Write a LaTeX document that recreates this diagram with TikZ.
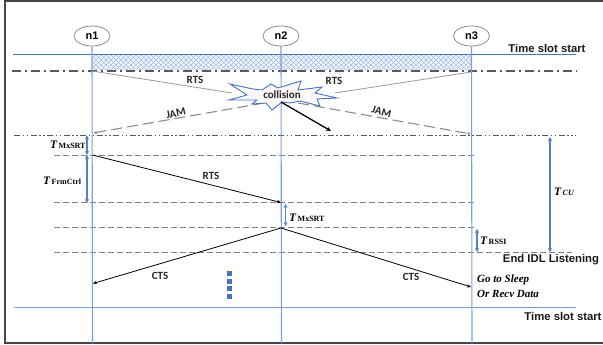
\documentclass[tikz,border=0pt]{standalone}
\usepackage{fontspec}
\setmainfont{Carlito}
\newfontfamily\arialf{Liberation Sans}
\newfontfamily\timesf{Liberation Serif}
\usetikzlibrary{arrows.meta,patterns,shapes.geometric}
\definecolor{lifeblue}{HTML}{7C9FDC}
\definecolor{slotblue}{HTML}{4472C4}
\definecolor{dashgray}{HTML}{808080}
\definecolor{darkgray}{HTML}{595959}
\tikzset{
  lifeline/.style={draw=lifeblue,line width=1.1pt},
  nodeell/.style={draw=gray,line width=.7pt,fill=white,ellipse,minimum width=36pt,minimum height=20pt,inner sep=0pt,font=\arialf\bfseries\fontsize{11}{12}\selectfont},
  slotline/.style={draw=slotblue,line width=.9pt},
  thickdd/.style={draw=darkgray,line width=1.6pt,dash pattern=on 9pt off 4pt on 2pt off 4pt},
  thindd/.style={draw=darkgray,line width=.8pt,dash pattern=on 6pt off 2.5pt on 1.5pt off 2.5pt on 1.5pt off 2.5pt},
  dashedline/.style={draw=dashgray,line width=.8pt,dash pattern=on 6pt off 3pt},
  graysig/.style={draw=gray!80,line width=.8pt},
  jamsig/.style={draw=gray!90,line width=1.1pt,dash pattern=on 11pt off 5pt,-{Stealth[length=4pt,width=3pt]}},
  msg/.style={draw=black,line width=.8pt,-{Stealth[length=4pt,width=3.5pt]}},
  dim/.style={draw=slotblue!90,line width=1.1pt,{Stealth[length=4pt,width=4pt]}-{Stealth[length=4pt,width=4pt]}},
  lbl/.style={font=\fontsize{11}{12}\selectfont\bfseries,inner sep=0pt,text=black!85},
  head/.style={font=\arialf\bfseries\fontsize{11.3}{13}\selectfont,inner sep=0pt,text=black!90},
  tlab/.style={inner sep=0pt,font=\timesf\fontsize{9}{11}\selectfont,text=black},
  dot/.style={fill=slotblue,draw=none,minimum width=5.5pt,minimum height=5pt,inner sep=0pt,rectangle},
}
\newcommand{\Tlab}[1]{{\fontsize{11.5}{12}\selectfont\bfseries\itshape T}\,{\fontsize{8}{10}\selectfont\bfseries #1}}
\begin{document}
\begin{tikzpicture}[x=1pt,y=-1pt]
\useasboundingbox (0,0) rectangle (603,345);
\draw[draw=darkgray!80!black,line width=1.3pt] (603,1) -- (5,1) -- (5,343) -- (603,343);

% hatched band
\begin{scope}
\clip (92,55) rectangle (471.5,70);
\fill[lifeblue!10] (92,55) rectangle (471.5,70);
\foreach \x in {75,80,...,490} {
  \draw[lifeblue!70,line width=.7pt] (\x,54) -- (\x+17,71);
  \draw[lifeblue!70,line width=.7pt] (\x+17,54) -- (\x,71);
}
\end{scope}

% named coordinates
\coordinate (s1L) at (13,54.5);  \coordinate (s1R) at (576,54.5);
\coordinate (aL) at (12,71);     \coordinate (aR) at (577,71);
\coordinate (bL) at (14,135);    \coordinate (bR) at (576,135);
\coordinate (cL) at (54,155);    \coordinate (cR) at (476,155);
\coordinate (dL) at (54,202.5);  \coordinate (dR) at (476,202.5);
\coordinate (eL) at (54,227.5);  \coordinate (eR) at (476,227.5);
\coordinate (fL) at (54,252.5);  \coordinate (fR) at (572,252.5);
\coordinate (gL) at (14,307.5);  \coordinate (gR) at (576,307.5);

\draw[slotline] (s1L) -- (s1R);
\draw[slotline,line width=1.2pt,draw=lifeblue] (gL) -- (gR);
\draw[thickdd] (aL) -- (aR);
\draw[thindd] (bL) -- (bR);
\draw[dashedline] (cL) -- (cR);
\draw[dashedline] (dL) -- (dR);
\draw[dashedline] (eL) -- (eR);
\draw[dashedline] (fL) -- (fR);

% lifelines
\node[nodeell] (n1) at (92,36) {n1};
\node[nodeell] (n2) at (281,36) {n2};
\node[nodeell] (n3) at (471.5,36) {n3};
\coordinate (n1b) at (92.5,343);
\coordinate (n2b) at (281.5,343);
\coordinate (n3b) at (472,343);
\draw[lifeline] (n1.south) -- (n1b);
\draw[lifeline] (n2.south) -- (n2b);
\draw[lifeline] (n3.south) -- (n3b);

% collision signals
\coordinate (r1) at (92,71);  \coordinate (r3) at (471,72);
\coordinate (rc1) at (232,93); \coordinate (rc3) at (335,93);
\coordinate (j1) at (93,133); \coordinate (j3) at (471,134);
\coordinate (jc1) at (264,103); \coordinate (jc3) at (298,103);
\draw[graysig] (r1) -- (rc1);
\draw[graysig] (r3) -- (rc3);
\draw[jamsig] (jc1) -- (j1);
\draw[jamsig] (jc3) -- (j3);

% collision star
\filldraw[draw=slotblue,line width=.9pt,fill=white]
 (230,84) -- (253,89) -- (262,90) -- (271,84) -- (278,88) -- (301,81) -- (298,90) -- (322,87)
 -- (315,93) -- (337,98) -- (317,99) -- (320,106) -- (300,101) -- (290,103) -- (282,102) -- (272,110)
 -- (266,103) -- (252,104) -- (257,100) -- (229,100) -- (247,95) -- cycle;
\fill[pattern=dots,pattern color=red!35]
 (253,90) -- (263,91) -- (271,85) -- (278,89) -- (300,83) -- (297,91) -- (320,88)
 -- (314,93) -- (333,98) -- (316,98) -- (318,105) -- (300,100) -- (290,102) -- (272,108) -- (266,102) -- (254,103) -- (258,99) -- (235,99) -- (248,95) -- cycle;
\node[lbl,font=\fontsize{11}{12}\selectfont\bfseries] (coll) at (282,95) {collision};
\coordinate (collTip) at (281,102);
\coordinate (collEnd) at (331,131);
\draw[draw=black,line width=1.3pt,-{Stealth[length=5pt,width=4.5pt]}] (collTip) -- (collEnd);

% message arrows
\coordinate (m1) at (92.5,155);  \coordinate (m2) at (281,202.5);
\coordinate (c0) at (281,228);   \coordinate (c1) at (93,283.5); \coordinate (c3) at (471,287);
\draw[msg] (m1) -- (m2);
\draw[msg] (c0) -- (c1);
\draw[msg] (c0) -- (c3);

% dimension arrows
\coordinate (d1a) at (87,135.5); \coordinate (d1b) at (87,155);
\coordinate (d2b) at (87,203);
\coordinate (d3a) at (285.5,204); \coordinate (d3b) at (285.5,226);
\coordinate (d4a) at (477,229); \coordinate (d4b) at (477,252);
\coordinate (d5a) at (550,137); \coordinate (d5b) at (550,252);
\draw[dim] (d1a) -- (d1b);
\draw[dim] (d1b) -- (d2b);
\draw[dim] (d3a) -- (d3b);
\draw[dim] (d4a) -- (d4b);
\draw[dim] (d5a) -- (d5b);

% labels
\node[lbl] (rtsA) at (195,80) {RTS};
\node[lbl] (rtsB) at (334,80.5) {RTS};
\node[lbl,rotate=12] (jamA) at (176,113.5) {JAM};
\node[lbl,rotate=-15] (jamB) at (381.5,112) {JAM};
\node[lbl] (rtsC) at (211,176) {RTS};
\node[lbl] (ctsA) at (160,275.5) {CTS};
\node[lbl] (ctsB) at (411,276.5) {CTS};
\node[head] (ts1) at (547,48) {Time slot start};
\node[head] (ts2) at (563,316.5) {Time slot start};
\node[head] (idl) at (551,259.5) {End IDL Listening};
\node[tlab,anchor=west] (t1) at (50,144.5) {\Tlab{MxSRT}};
\node[tlab,anchor=west] (t2) at (43,180.5) {\Tlab{FrmCtrl}};
\node[tlab,anchor=west] (t3) at (289,218) {\Tlab{MxSRT}};
\node[tlab,anchor=west] (t4) at (480,241) {\Tlab{RSSI}};
\node[tlab,anchor=west] (t5) at (554,192) {{\fontsize{11.5}{12}\selectfont\bfseries\itshape T}\,{\fontsize{8}{10}\selectfont\bfseries\itshape CU}};
\node[tlab,anchor=west,font=\timesf\fontsize{11}{12}\selectfont\bfseries\itshape] (go) at (477,279.5) {Go to Sleep};
\node[tlab,anchor=west,font=\timesf\fontsize{11}{12}\selectfont\bfseries\itshape] (or) at (477,293.5) {Or Recv Data};

% dots
\node[dot] (p1) at (229.5,273.5) {};
\node[dot] (p2) at (229.5,281) {};
\node[dot] (p3) at (229.5,288.5) {};
\node[dot] (p4) at (229.5,296) {};
\end{tikzpicture}
\end{document}
